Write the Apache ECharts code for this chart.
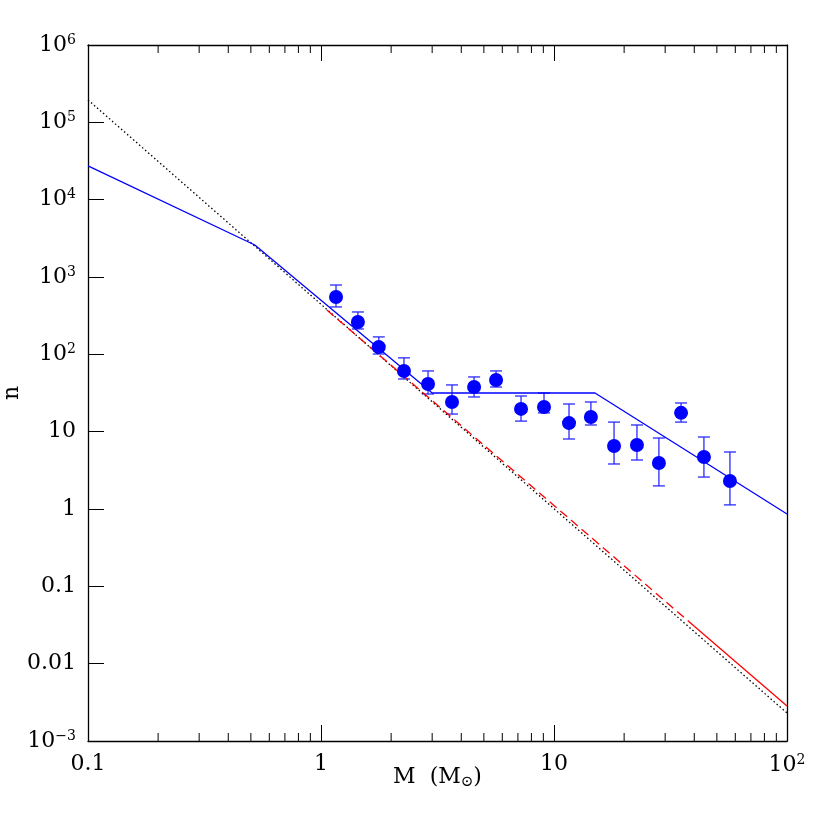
<!DOCTYPE html>
<html>
<head>
<meta charset="utf-8">
<script src="https://cdn.jsdelivr.net/npm/echarts@6/dist/echarts.min.js"></script>
<style>
  html, body { margin: 0; padding: 0; background: #fff; }
  #chart { width: 830px; height: 830px; }
</style>
</head>
<body>
<div id="chart"></div>
<script>
// data points (mass bins, counts, error bar ends)
const massBins = [1.16, 1.44, 1.77, 2.27, 2.88, 3.65, 4.54, 5.64, 7.22, 9.06, 11.6, 14.4, 18.1, 22.7, 28.2, 35.1, 44.0, 56.9];
const counts = [552, 262, 124, 61, 41.4, 24.2, 37.8, 46.6, 19.7, 20.8, 12.9, 15.5, 6.53, 6.73, 3.94, 17.5, 4.71, 2.30];
const errHigh = [788, 353, 168, 90, 61, 40.2, 51, 61, 28.9, 31.6, 22.8, 24.2, 13.3, 12.2, 8.28, 23.5, 8.53, 5.46];
const errLow = [410, 213, 101, 48, 30.7, 16.9, 28.1, 37.8, 13.7, 17.5, 8.04, 12.2, 3.82, 4.3, 1.99, 13.3, 2.59, 1.13];

// model curves
const brokenPowerLaw = [[0.1, 2.73e4], [0.52, 2594], [3.0, 31.6], [15, 31.6], [100, 0.86]];
const singlePowerLaw = [[0.1, 1.95e5], [100, 2.3e-3]];
const redDashed = [[1.06, 374], [40, 0.0305]];
const redSolid = [[40, 0.0305], [100, 2.84e-3]];

// minor tick positions on the mass axis
const minorTicks = [0.2, 0.3, 0.4, 0.5, 0.6, 0.7, 0.8, 0.9, 2, 3, 4, 5, 6, 7, 8, 9, 20, 30, 40, 50, 60, 70, 80, 90];

const FONT = "DejaVu Serif";
const richStyle = {
    b: { fontSize: 22, fontFamily: FONT, color: "#000" },
    s: { fontSize: 14, fontFamily: FONT, color: "#000", padding: [0, 0, 10, 0] },
};

function logLabel(v) {
    const e = Math.round(Math.log10(v));
    if (e >= -2 && e <= 1) {
        const txt = e === -2 ? "0.01" : e === -1 ? "0.1" : e === 0 ? "1" : "10";
        return "{b|" + txt + "}";
    }
    return "{b|10}{s|" + (e < 0 ? "\u2212" + (-e) : e) + "}";
}

const axisLineStyle = { lineStyle: { color: "#000", width: 1.3 } };

const option = {
    animation: false,
    backgroundColor: "#fff",
    grid: { left: 88, right: 43, top: 45, bottom: 89, containLabel: false, outerBoundsMode: "none" },
    xAxis: [
        {
            type: "log",
            logBase: 10,
            min: 0.1,
            max: 100,
            position: "bottom",
            axisLine: axisLineStyle,
            axisTick: { inside: true, length: 16, lineStyle: { color: "#000", width: 1 } },
            axisLabel: { margin: 12, formatter: logLabel, rich: richStyle },
            splitLine: { show: false },
            name: "{b|M  (M}{sub|\u2299}{b|)}",
            nameLocation: "middle",
            nameGap: 24,
            nameMoveOverlap: false,
            nameTextStyle: {
                rich: {
                    b: { fontSize: 22, fontFamily: FONT, color: "#000" },
                    sub: { fontSize: 15, fontFamily: FONT, color: "#000", padding: [10, 0, 0, 0] },
                },
            },
        },
        {
            type: "log",
            logBase: 10,
            min: 0.1,
            max: 100,
            position: "top",
            axisLine: axisLineStyle,
            axisTick: { inside: true, length: 16, lineStyle: { color: "#000", width: 1 } },
            axisLabel: { show: false },
            splitLine: { show: false },
        },
    ],
    yAxis: [
        {
            type: "log",
            logBase: 10,
            min: 0.001,
            max: 1e6,
            position: "left",
            axisLine: axisLineStyle,
            axisTick: { inside: true, length: 16, lineStyle: { color: "#000", width: 1 } },
            axisLabel: { margin: 12, formatter: logLabel, rich: richStyle },
            splitLine: { show: false },
            name: "n",
            nameLocation: "middle",
            nameGap: 65,
            nameMoveOverlap: false,
            nameTextStyle: { fontSize: 22, fontFamily: FONT, color: "#000" },
        },
        {
            type: "log",
            logBase: 10,
            min: 0.001,
            max: 1e6,
            position: "right",
            axisLine: axisLineStyle,
            axisTick: { show: false },
            axisLabel: { show: false },
            splitLine: { show: false },
        },
    ],
    series: [
        {
            // minor ticks, bottom and top
            type: "custom",
            xAxisIndex: 0,
            yAxisIndex: 0,
            silent: true,
            clip: false,
            data: minorTicks.map(m => [m, 1]),
            renderItem: function (params, api) {
                const x = api.coord([api.value(0), 1])[0];
                const cs = params.coordSys;
                const style = { stroke: "#000", lineWidth: 1 };
                return {
                    type: "group",
                    children: [
                        { type: "line", shape: { x1: x, y1: cs.y + cs.height, x2: x, y2: cs.y + cs.height - 8 }, style: style },
                        { type: "line", shape: { x1: x, y1: cs.y, x2: x, y2: cs.y + 8 }, style: style },
                    ],
                };
            },
        },
        {
            type: "line",
            data: singlePowerLaw,
            showSymbol: false,
            lineStyle: { color: "#000", width: 1.3, type: [1.5, 2.5] },
        },
        {
            type: "line",
            data: redDashed,
            showSymbol: false,
            lineStyle: { color: "#ff0000", width: 1.3, type: [9, 5] },
        },
        {
            type: "line",
            data: redSolid,
            showSymbol: false,
            lineStyle: { color: "#ff0000", width: 1.3 },
        },
        {
            type: "line",
            data: brokenPowerLaw,
            showSymbol: false,
            lineStyle: { color: "#0000ff", width: 1.3 },
        },
        {
            // error bars
            type: "custom",
            data: massBins.map((m, i) => [m, errLow[i], errHigh[i]]),
            encode: { x: 0, y: [1, 2] },
            renderItem: function (params, api) {
                const lo = api.coord([api.value(0), api.value(1)]);
                const hi = api.coord([api.value(0), api.value(2)]);
                const w = 6;
                const style = { stroke: "#2a2aff", lineWidth: 1.3 };
                return {
                    type: "group",
                    children: [
                        { type: "line", shape: { x1: lo[0], y1: lo[1], x2: hi[0], y2: hi[1] }, style: style },
                        { type: "line", shape: { x1: lo[0] - w, y1: lo[1], x2: lo[0] + w, y2: lo[1] }, style: style },
                        { type: "line", shape: { x1: hi[0] - w, y1: hi[1], x2: hi[0] + w, y2: hi[1] }, style: style },
                    ],
                };
            },
        },
        {
            type: "scatter",
            data: massBins.map((m, i) => [m, counts[i]]),
            symbol: "circle",
            symbolSize: 14,
            itemStyle: { color: "#0000ff", opacity: 1 },
            z: 5,
        },
    ],
};

const myChart = echarts.init(document.getElementById("chart"));
myChart.setOption(option);
</script>
</body>
</html>
